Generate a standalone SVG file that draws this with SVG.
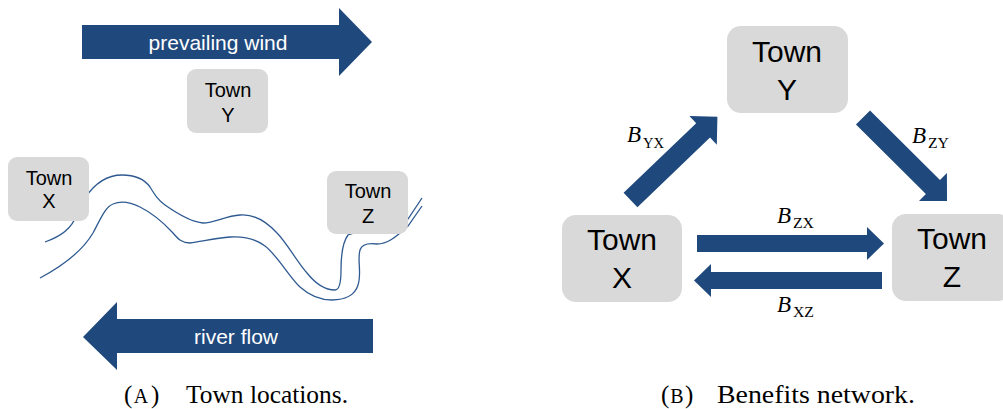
<svg xmlns="http://www.w3.org/2000/svg" width="1003" height="409" viewBox="0 0 1003 409">
  <style>
    .box { fill: #d9d9d9; }
    .arrow { fill: #1f497d; }
    .river { fill: none; stroke: #2f5a91; stroke-width: 1.3; }
    .tsmall { font-family: "Liberation Sans", Arial, sans-serif; font-size: 20px; fill: #000; text-anchor: middle; }
    .tbig { font-family: "Liberation Sans", Arial, sans-serif; font-size: 30px; fill: #000; text-anchor: middle; }
    .alabel { font-family: "Liberation Sans", Arial, sans-serif; font-size: 21px; fill: #fff; text-anchor: middle; }
    .bmain { font-family: "Liberation Serif", "Times New Roman", serif; font-size: 23px; font-style: italic; fill: #000; }
    .bsub { font-family: "Liberation Serif", "Times New Roman", serif; font-size: 15px; fill: #000; }
    .cap { font-family: "Liberation Serif", "Times New Roman", serif; font-size: 25px; fill: #000; }
    .sc { font-family: "Liberation Serif", "Times New Roman", serif; font-size: 20px; fill: #000; text-anchor: middle; }
  </style>
  <rect x="0" y="0" width="1003" height="409" fill="#ffffff"/>

  <!-- Panel A: town locations -->
  <g id="panel-a">
    <g id="river">
      <path class="river" d="M45,242 C62,236 72,228 76,216 L85,198 C95,183 108,175 122,175 C135,175 145,180 150,187 C155,195 158,200 165,205 C175,212 190,222 203,223 C215,223 225,216 240,215 C252,214 265,220 277,233 C287,243 297,262 307,273 C315,283 325,290 335,290 C340,290 341,280 341,270 C341,255 342,243 348,235 L370,228 L400,224 L408,219 L422,198"/>
      <path class="river" d="M40,278 C55,270 80,255 93,233 C100,220 105,207 113,204 C120,201 130,202 140,207 C150,212 163,222 173,233 C178,239 182,243 190,243 C200,242 215,238 230,237 C245,236 257,240 265,246 C277,255 290,278 300,287 C310,296 320,300 332,300 C345,300 355,295 358,285 C362,273 357,260 360,250 C362,244 370,243 377,244 C387,244 395,238 408,226 L422,206"/>
    </g>
    <g id="wind-arrow">
      <polygon class="arrow" points="82,25 339,25 339,8 372,42 339,76 339,59 82,59"/>
      <text class="alabel" x="218" y="50">prevailing wind</text>
    </g>
    <g id="river-flow-arrow">
      <polygon class="arrow" points="373,319 117,319 117,302 83,337 117,370 117,353 373,353"/>
      <text class="alabel" x="236" y="344">river flow</text>
    </g>
    <g id="a-town-y">
      <rect class="box" x="187" y="69" width="81" height="64" rx="9"/>
      <text class="tsmall" x="228" y="97">Town</text>
      <text class="tsmall" x="228" y="122">Y</text>
    </g>
    <g id="a-town-x">
      <rect class="box" x="8" y="157" width="81" height="64" rx="9"/>
      <text class="tsmall" x="49" y="185">Town</text>
      <text class="tsmall" x="49" y="208">X</text>
    </g>
    <g id="a-town-z">
      <rect class="box" x="327" y="171" width="81" height="63" rx="9"/>
      <text class="tsmall" x="368" y="198">Town</text>
      <text class="tsmall" x="368" y="223">Z</text>
    </g>
  </g>

  <!-- Panel B: benefits network -->
  <g id="b-town-y">
    <rect class="box" x="727" y="26" width="121" height="87" rx="14"/>
    <text class="tbig" x="787" y="62">Town</text>
    <text class="tbig" x="787" y="100">Y</text>
  </g>
  <g id="b-town-x">
    <rect class="box" x="562" y="215" width="120" height="87" rx="14"/>
    <text class="tbig" x="622" y="250">Town</text>
    <text class="tbig" x="622" y="288">X</text>
  </g>
  <g id="b-town-z">
    <rect class="box" x="892" y="214" width="120" height="87" rx="14"/>
    <text class="tbig" x="952" y="249">Town</text>
    <text class="tbig" x="952" y="287">Z</text>
  </g>

  <g id="connectors">
    <polygon class="arrow" transform="translate(630.5,200) rotate(-43.8)" points="0,-10 100.6,-10 100.6,-19.8 120.4,0 100.6,19.8 100.6,10 0,10"/>
    <polygon class="arrow" transform="translate(863,117.5) rotate(44.8)" points="0,-10 98.6,-10 98.6,-19.8 118.4,0 98.6,19.8 98.6,10 0,10"/>
    <polygon class="arrow" points="697,235 867,235 867,227 884,243.5 867,260 867,252 697,252"/>
    <polygon class="arrow" points="882,272 711,272 711,264 694,280.5 711,297 711,289 882,289"/>
    <g id="labels">
      <text class="bmain" x="627" y="142">B</text>
      <text class="bsub" x="643" y="148" textLength="21" lengthAdjust="spacingAndGlyphs">YX</text>
      <text class="bmain" x="912" y="143">B</text>
      <text class="bsub" x="928" y="148" textLength="21" lengthAdjust="spacingAndGlyphs">ZY</text>
      <text class="bmain" x="777" y="223">B</text>
      <text class="bsub" x="793" y="228" textLength="21" lengthAdjust="spacingAndGlyphs">ZX</text>
      <text class="bmain" x="777" y="312">B</text>
      <text class="bsub" x="793" y="317" textLength="21" lengthAdjust="spacingAndGlyphs">XZ</text>
    </g>
  </g>

  <g id="captions">
    <text class="cap" x="124" y="403">(</text>
    <text class="sc" x="141" y="403">A</text>
    <text class="cap" x="151" y="403">)</text>
    <text class="cap" x="186" y="403" textLength="162" lengthAdjust="spacingAndGlyphs">Town locations.</text>
    <text class="cap" x="661" y="403">(</text>
    <text class="sc" x="677" y="403">B</text>
    <text class="cap" x="685" y="403">)</text>
    <text class="cap" x="717" y="403" textLength="198" lengthAdjust="spacingAndGlyphs">Benefits network.</text>
  </g>
</svg>
